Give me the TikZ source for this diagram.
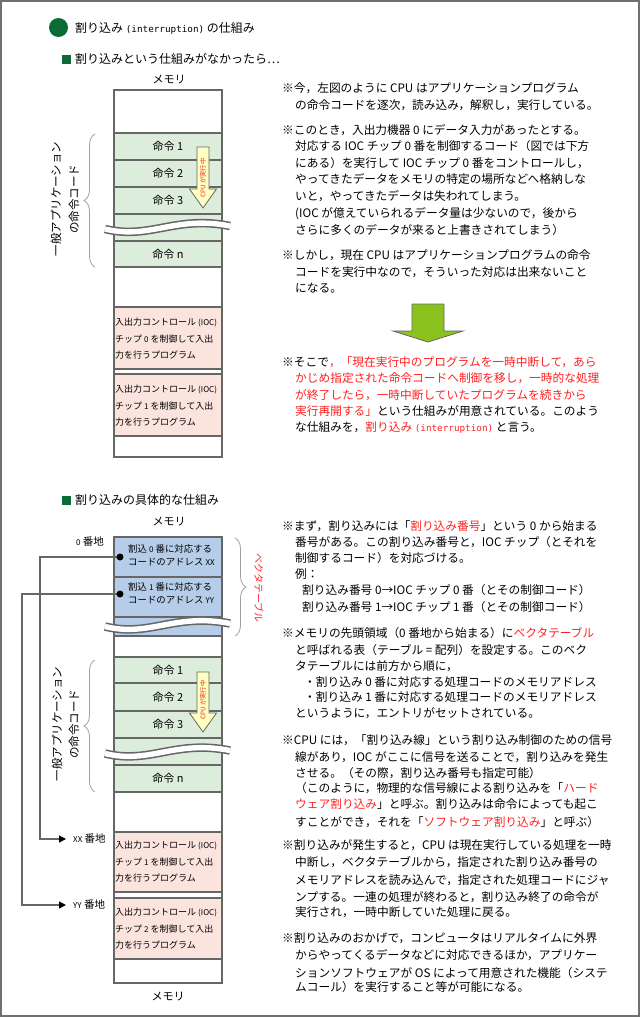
\documentclass[tikz,border=0pt]{standalone}
\usepackage{fontspec}
\setmainfont{Noto Sans CJK JP}
\newfontfamily\monof{DejaVu Sans Mono}
\usetikzlibrary{decorations.pathreplacing,arrows.meta}
\definecolor{framec}{HTML}{707070}
\definecolor{lgray}{HTML}{666666}
\definecolor{dgreen}{HTML}{0B6B35}
\definecolor{rgreen}{HTML}{DCEDDC}
\definecolor{rpink}{HTML}{FBE4DE}
\definecolor{rblue}{HTML}{B5CDE9}
\definecolor{ayellow}{HTML}{FFFFC2}
\definecolor{agreen}{HTML}{8CC21E}
\definecolor{jred}{HTML}{FF2020}
\definecolor{bracec}{HTML}{A0A0A0}
\newcommand\rd[1]{\textcolor{jred}{#1}}
\newcommand\mn[1]{{\monof\fontsize{9.3}{10}\selectfont #1}}
\newcommand\sm[1]{{\fontsize{8}{10}\selectfont #1}}
\tikzset{
  wave/.pic={
    \draw[lgray,line width=8.5pt] (-63,1.5) .. controls (-18,12.5) and (7,-12.5) .. (62,-1.5);
    \draw[white,line width=5.4pt] (-63,1.5) .. controls (-18,12.5) and (7,-12.5) .. (62,-1.5);
  }
}
\begin{document}
\begin{tikzpicture}[x=1pt,y=-1pt,
  txt/.style={anchor=base west,inner sep=0pt,font=\fontsize{11.7}{14}\selectfont},
  head/.style={anchor=base west,inner sep=0pt,font=\fontsize{12}{14}\selectfont},
  memlabel/.style={inner sep=0pt,font=\fontsize{11}{13}\selectfont},
  cell/.style={draw=lgray,line width=1.3pt,minimum width=108pt,inner sep=0pt,font=\fontsize{11}{13}\selectfont},
  boxtxt/.style={anchor=west,inner sep=0pt,align=left,font=\fontsize{9}{16.5}\selectfont},
  vectxt/.style={anchor=west,inner sep=0pt,align=left,font=\fontsize{9.4}{13}\selectfont},
  memframe/.style={draw=lgray,line width=1.3pt},
  vtext/.style={inner sep=0pt,rotate=90,font=\fontsize{11.5}{13}\selectfont},
  cpuarrow/.style={fill=ayellow,draw=lgray,line width=0.8pt},
  cputxt/.style={inner sep=0pt,rotate=90,text=jred,font=\fontsize{6.3}{7}\selectfont},
  lbrace/.style={draw=bracec,line width=0.8pt,decorate,decoration={brace,amplitude=11pt}},
  link/.style={draw=lgray,line width=1.3pt},
  addr/.style={anchor=west,inner sep=0pt,font=\fontsize{10.5}{12}\selectfont},
  sqmark/.style={fill=dgreen,minimum size=9pt,inner sep=0pt},
  bdot/.style={circle,fill=black,minimum size=7pt,inner sep=0pt},
]
\useasboundingbox (0,0) rectangle (641,1017);
\draw[framec,line width=2pt] (1,1) rectangle (639,1016);

% title
\node[circle,fill=dgreen,minimum size=19pt,inner sep=0pt] (dot0) at (58.5,27.5) {};
\node[head] (title) at (75,32) {割り込み \mn{(interruption)} の仕組み};

% ===== section 1 =====
\node[sqmark] (sq1) at (66.5,59) {};
\node[head] (h1) at (75,63.5) {割り込みという仕組みがなかったら…};
\node[memlabel] (m1) at (169,80) {メモリ};

\node[cell,fill=rgreen,minimum height=27pt] (a1) at (168,146.5) {命令 1};
\node[cell,fill=rgreen,minimum height=27pt] (a2) at (168,173.5) {命令 2};
\node[cell,fill=rgreen,minimum height=27pt] (a3) at (168,200.5) {命令 3};
\node[cell,fill=rgreen,minimum height=27pt] (a4) at (168,227.5) {};
\node[cell,fill=rgreen,minimum height=26pt] (a5) at (168,254) {命令 n};
\node[cell,fill=rpink,minimum height=62pt] (p1) at (168,338) {};
\node[cell,fill=rpink,minimum height=62pt] (p2) at (168,405) {};
\draw[memframe] (114,90) rectangle (222,457);
\pic at (168,227.5) {wave};
\node[boxtxt] (p1t) at (115,339) {入出力コントロール \sm{(IOC)}\\チップ \sm{0} を制御して入出\\力を行うプログラム};
\node[boxtxt] (p2t) at (115,406) {入出力コントロール \sm{(IOC)}\\チップ \sm{1} を制御して入出\\力を行うプログラム};

\filldraw[cpuarrow] (197,147) -- (209,147) -- (209,189) -- (216.5,189) -- (203,208) -- (189.5,189) -- (197,189) -- cycle;
\node[cputxt] (c1) at (203,178) {CPU が実行中};

\node[vtext] (v1a) at (56,199) {一般アプリケーション};
\node[vtext] (v1b) at (74,199) {の命令コード};
\draw[lbrace] (95,267) -- (95,134);

\node[txt] (t1) at (282,92.3) {※今，左図のように CPU はアプリケーションプログラム};
\node[txt] (t2) at (295,109.3) {の命令コードを逐次，読み込み，解釈し，実行している。};
\node[txt] (t3) at (282,134.3) {※このとき，入出力機器 0 にデータ入力があったとする。};
\node[txt] (t4) at (295,150.3) {対応する IOC チップ 0 番を制御するコード（図では下方};
\node[txt] (t5) at (295,167) {にある）を実行して IOC チップ 0 番をコントロールし，};
\node[txt] (t6) at (295,183.3) {やってきたデータをメモリの特定の場所などへ格納しな};
\node[txt] (t7) at (295,200.3) {いと，やってきたデータは失われてしまう。};
\node[txt] (t8) at (295,217.3) {(IOC が億えていられるデータ量は少ないので，後から};
\node[txt] (t9) at (295,234.3) {さらに多くのデータが来ると上書きされてしまう）};
\node[txt] (t10) at (282,259.3) {※しかし，現在 CPU はアプリケーションプログラムの命令};
\node[txt] (t11) at (295,276.3) {コードを実行中なので，そういった対応は出来ないこと};
\node[txt] (t12) at (295,292.3) {になる。};

\filldraw[fill=agreen,draw=lgray,line width=0.8pt] (412,304) -- (444,304) -- (444,331) -- (463,331) -- (428,342) -- (393,331) -- (412,331) -- cycle;

\node[txt] (t13) at (282,366.3) {※そこで\rd{，「現在実行中のプログラムを一時中断して，あら}};
\node[txt] (t14) at (295,382.3) {\rd{かじめ指定された命令コードへ制御を移し，一時的な処理}};
\node[txt] (t15) at (295,399.3) {\rd{が終了したら，一時中断していたプログラムを続きから}};
\node[txt] (t16) at (295,415.3) {\rd{実行再開する」}という仕組みが用意されている。このよう};
\node[txt] (t17) at (295,431.3) {な仕組みを，\rd{割り込み \mn{(interruption)}} と言う。};

% ===== section 2 =====
\node[sqmark] (sq2) at (66.5,500) {};
\node[head] (h2) at (75,504.5) {割り込みの具体的な仕組み};
\node[memlabel] (m2) at (169,522) {メモリ};
\node[addr] (z0) at (76,542) {\sm{0} 番地};

\node[cell,fill=rblue,minimum height=40pt] (e1) at (168,557) {};
\node[cell,fill=rblue,minimum height=40pt] (e2) at (168,597) {};
\node[cell,fill=rblue,minimum height=19pt] (e3) at (168,626.5) {};
\node[cell,fill=rgreen,minimum height=26pt] (b1) at (168,670) {命令 1};
\node[cell,fill=rgreen,minimum height=28pt] (b2) at (168,697) {命令 2};
\node[cell,fill=rgreen,minimum height=27pt] (b3) at (168,724.5) {命令 3};
\node[cell,fill=rgreen,minimum height=27pt] (b4) at (168,751.5) {};
\node[cell,fill=rgreen,minimum height=27pt] (b5) at (168,778.5) {命令 n};
\node[cell,fill=rpink,minimum height=60pt] (q1) at (168,862) {};
\node[cell,fill=rpink,minimum height=61pt] (q2) at (168,928.5) {};
\draw[memframe] (114,537) rectangle (222,983);
\pic at (168,625) {wave};
\pic at (168,752) {wave};

\node[vectxt] (e1t) at (128,555.5) {割込 \sm{0} 番に対応する\\コードのアドレス \sm{XX}};
\node[vectxt] (e2t) at (128,593) {割込 \sm{1} 番に対応する\\コードのアドレス \sm{YY}};
\node[boxtxt] (q1t) at (115,862) {入出力コントロール \sm{(IOC)}\\チップ \sm{1} を制御して入出\\力を行うプログラム};
\node[boxtxt] (q2t) at (115,929) {入出力コントロール \sm{(IOC)}\\チップ \sm{2} を制御して入出\\力を行うプログラム};

\filldraw[cpuarrow] (197,672) -- (209,672) -- (209,713) -- (216.5,713) -- (203,732) -- (189.5,713) -- (197,713) -- cycle;
\node[cputxt] (c2) at (203,700) {CPU が実行中};

\node[vtext] (v2a) at (57,724) {一般アプリケーション};
\node[vtext] (v2b) at (74,724) {の命令コード};
\draw[lbrace] (95,792) -- (95,660);

\draw[lbrace] (235,538) -- (235,636);
\node[inner sep=0pt,rotate=-90,text=jred,font=\fontsize{10}{12}\selectfont] (vt) at (259,588) {ベクタテーブル};

\coordinate (d1c) at (120,557);
\coordinate (d2c) at (120,594);
\node[addr] (xx) at (73,839) {\sm{XX} 番地};
\node[addr] (yy) at (73,905) {\sm{YY} 番地};
\draw[link,-{Triangle[length=7pt,width=7pt,color=black]}] (d1c) -- (40,557) |- ([xshift=-7pt]xx.west);
\draw[link,-{Triangle[length=7pt,width=7pt,color=black]}] (d2c) -- (22,594) |- ([xshift=-7pt]yy.west);
\node[bdot] (d1) at (d1c) {};
\node[bdot] (d2) at (d2c) {};
\node[memlabel] (m3) at (168,997) {メモリ};

\node[txt] (u1) at (282,530.3) {※まず，割り込みには「\rd{割り込み番号}」という 0 から始まる};
\node[txt] (u2) at (295,546.3) {番号がある。この割り込み番号と，IOC チップ（とそれを};
\node[txt] (u3) at (295,562.3) {制御するコード）を対応づける。};
\node[txt] (u4) at (295,578.3) {例：};
\node[txt] (u5) at (302,594.3) {割り込み番号 0→IOC チップ 0 番（とその制御コード）};
\node[txt] (u6) at (302,611.3) {割り込み番号 1→IOC チップ 1 番（とその制御コード）};
\node[txt] (u7) at (282,637.3) {※メモリの先頭領域（0 番地から始まる）に\rd{ベクタテーブル}};
\node[txt] (u8) at (295,654.3) {と呼ばれる表（テーブル = 配列）を設定する。このベク};
\node[txt] (u9) at (295,670.3) {タテーブルには前方から順に，};
\node[txt] (u10) at (304,686.3) {・割り込み 0 番に対応する処理コードのメモリアドレス};
\node[txt] (u11) at (304,701.3) {・割り込み 1 番に対応する処理コードのメモリアドレス};
\node[txt] (u12) at (295,717.3) {というように，エントリがセットされている。};
\node[txt] (u13) at (282,744.3) {※CPU には，「割り込み線」という割り込み制御のための信号};
\node[txt] (u14) at (295,761.3) {線があり，IOC がここに信号を送ることで，割り込みを発生};
\node[txt] (u15) at (295,777.3) {させる。（その際，割り込み番号も指定可能）};
\node[txt] (u16) at (295,792.3) {（このように，物理的な信号線による割り込みを「\rd{ハード}};
\node[txt] (u17) at (295,808.3) {\rd{ウェア割り込み}」と呼ぶ。割り込みは命令によっても起こ};
\node[txt] (u18) at (295,826.3) {すことができ，それを「\rd{ソフトウェア割り込み}」と呼ぶ）};
\node[txt] (u19) at (282,849.3) {※割り込みが発生すると，CPU は現在実行している処理を一時};
\node[txt] (u20) at (295,866.3) {中断し，ベクタテーブルから，指定された割り込み番号の};
\node[txt] (u21) at (295,884.3) {メモリアドレスを読み込んで，指定された処理コードにジャ};
\node[txt] (u22) at (295,901.3) {ンプする。一連の処理が終わると，割り込み終了の命令が};
\node[txt] (u23) at (295,916.3) {実行され，一時中断していた処理に戻る。};
\node[txt] (u24) at (282,942.3) {※割り込みのおかげで，コンピュータはリアルタイムに外界};
\node[txt] (u25) at (295,959.3) {からやってくるデータなどに対応できるほか，アプリケー};
\node[txt] (u26) at (295,977.3) {ションソフトウェアが OS によって用意された機能（システ};
\node[txt] (u27) at (295,991.3) {ムコール）を実行すること等が可能になる。};
\end{tikzpicture}
\end{document}
